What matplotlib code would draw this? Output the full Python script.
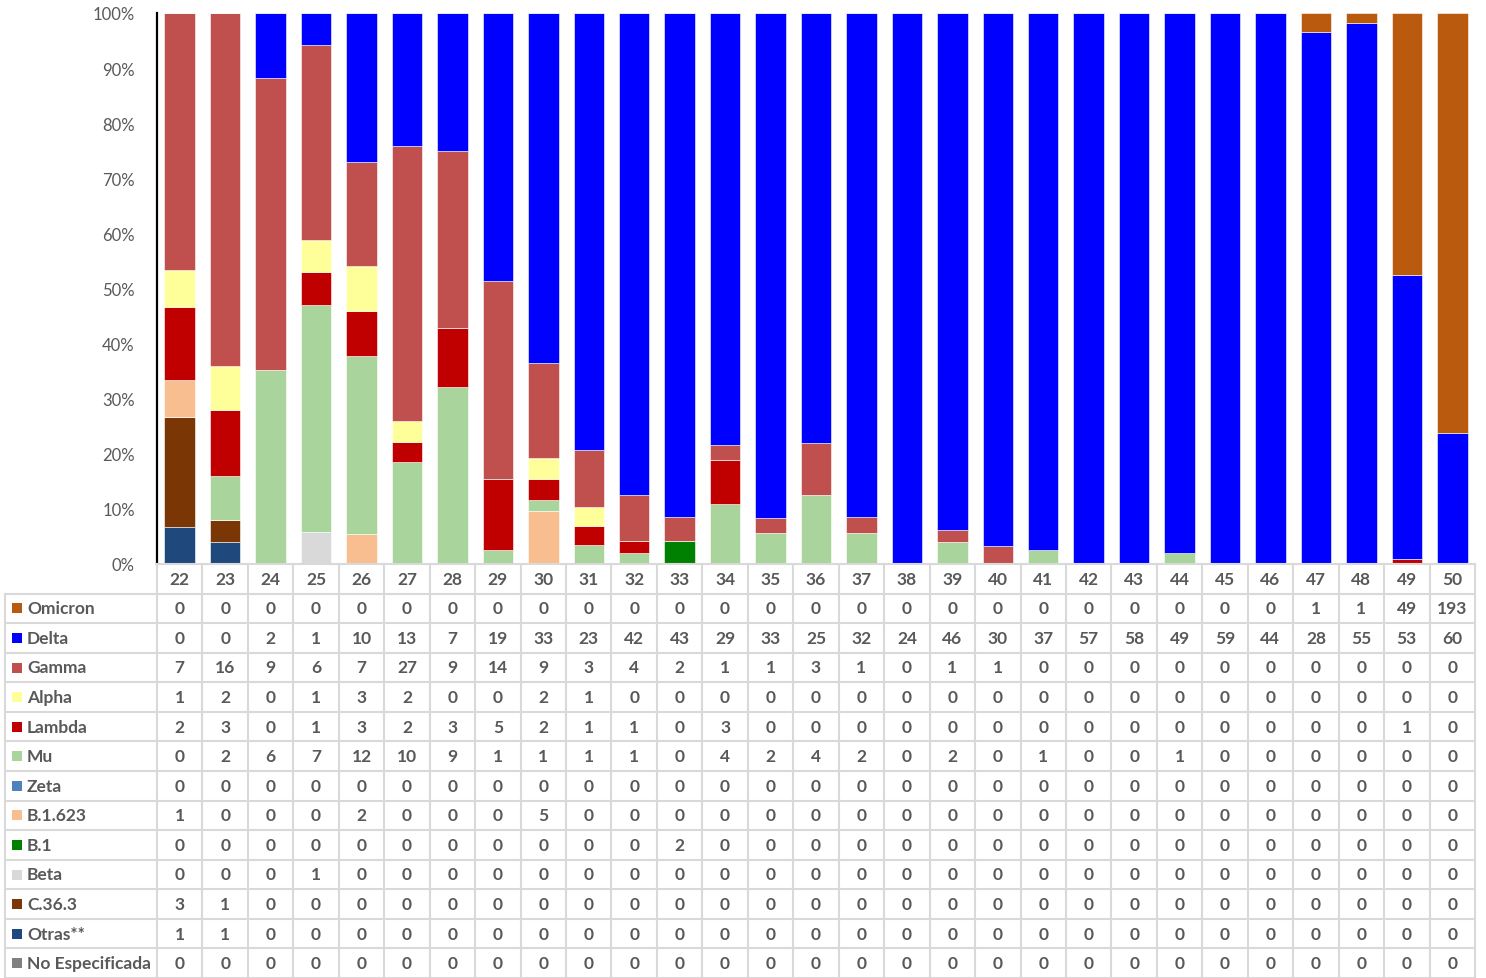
"""Variantes por semana epidemiologica: barras apiladas al 100% con tabla de datos."""

import matplotlib.pyplot as plt
import numpy as np
from matplotlib.patches import Rectangle

weeks = [22, 23, 24, 25, 26, 27, 28, 29, 30, 31, 32, 33, 34, 35, 36,
         37, 38, 39, 40, 41, 42, 43, 44, 45, 46, 47, 48, 49, 50]

omicron = [0, 0, 0, 0, 0, 0, 0, 0, 0, 0, 0, 0, 0, 0, 0, 0, 0, 0, 0, 0, 0, 0, 0, 0, 0, 1, 1, 49, 193]
delta = [0, 0, 2, 1, 10, 13, 7, 19, 33, 23, 42, 43, 29, 33, 25, 32, 24, 46, 30, 37, 57, 58, 49, 59, 44, 28, 55, 53, 60]
gamma = [7, 16, 9, 6, 7, 27, 9, 14, 9, 3, 4, 2, 1, 1, 3, 1, 0, 1, 1, 0, 0, 0, 0, 0, 0, 0, 0, 0, 0]
alpha = [1, 2, 0, 1, 3, 2, 0, 0, 2, 1, 0, 0, 0, 0, 0, 0, 0, 0, 0, 0, 0, 0, 0, 0, 0, 0, 0, 0, 0]
lambda_ = [2, 3, 0, 1, 3, 2, 3, 5, 2, 1, 1, 0, 3, 0, 0, 0, 0, 0, 0, 0, 0, 0, 0, 0, 0, 0, 0, 1, 0]
mu = [0, 2, 6, 7, 12, 10, 9, 1, 1, 1, 1, 0, 4, 2, 4, 2, 0, 2, 0, 1, 0, 0, 1, 0, 0, 0, 0, 0, 0]
zeta = [0, 0, 0, 0, 0, 0, 0, 0, 0, 0, 0, 0, 0, 0, 0, 0, 0, 0, 0, 0, 0, 0, 0, 0, 0, 0, 0, 0, 0]
b1623 = [1, 0, 0, 0, 2, 0, 0, 0, 5, 0, 0, 0, 0, 0, 0, 0, 0, 0, 0, 0, 0, 0, 0, 0, 0, 0, 0, 0, 0]
b1 = [0, 0, 0, 0, 0, 0, 0, 0, 0, 0, 0, 2, 0, 0, 0, 0, 0, 0, 0, 0, 0, 0, 0, 0, 0, 0, 0, 0, 0]
beta = [0, 0, 0, 1, 0, 0, 0, 0, 0, 0, 0, 0, 0, 0, 0, 0, 0, 0, 0, 0, 0, 0, 0, 0, 0, 0, 0, 0, 0]
c363 = [3, 1, 0, 0, 0, 0, 0, 0, 0, 0, 0, 0, 0, 0, 0, 0, 0, 0, 0, 0, 0, 0, 0, 0, 0, 0, 0, 0, 0]
otras = [1, 1, 0, 0, 0, 0, 0, 0, 0, 0, 0, 0, 0, 0, 0, 0, 0, 0, 0, 0, 0, 0, 0, 0, 0, 0, 0, 0, 0]
no_esp = [0, 0, 0, 0, 0, 0, 0, 0, 0, 0, 0, 0, 0, 0, 0, 0, 0, 0, 0, 0, 0, 0, 0, 0, 0, 0, 0, 0, 0]

# table order (top to bottom); stacking goes the other way
series = [
    ("Omicron", omicron, "#BA5A0E"),
    ("Delta", delta, "#0000FF"),
    ("Gamma", gamma, "#C0504D"),
    ("Alpha", alpha, "#FFFF99"),
    ("Lambda", lambda_, "#C00000"),
    ("Mu", mu, "#A9D49B"),
    ("Zeta", zeta, "#4F81BD"),
    ("B.1.623", b1623, "#F9BE8F"),
    ("B.1", b1, "#008000"),
    ("Beta", beta, "#D9D9D9"),
    ("C.36.3", c363, "#7A3604"),
    ("Otras**", otras, "#1F497D"),
    ("No Especificada", no_esp, "#808080"),
]

W, H = 1486, 979
TEXT = "#595959"
GRID = "#D9D9D9"
FONT = "Lato"
FS = 12.5

fig = plt.figure(figsize=(W / 100, H / 100), dpi=100)

# pixel layout
x0, x1 = 157, 1475
y_top, y_axis = 14, 565
lab_left = 5
n = len(weeks)
col_w = (x1 - x0) / n
lab_units = (x0 - lab_left) / col_w

# bar chart
ax = fig.add_axes([x0 / W, 1 - y_axis / H, (x1 - x0) / W, (y_axis - y_top) / H])
x = np.arange(n)
counts = np.array([s[1] for s in series], dtype=float)
totals = counts.sum(axis=0)
pct = counts / totals * 100
bottom = np.zeros(n)
for (name, vals, color), p in zip(series[::-1], pct[::-1]):
    ax.bar(x, p, width=0.67, bottom=bottom, color=color, edgecolor="white",
           linewidth=0.4, zorder=2)
    bottom += p

ax.set_xlim(-0.5, n - 0.5)
ax.set_ylim(0, 100)
ax.set_yticks(np.arange(0, 101, 10))
ax.set_yticklabels([f"{v}%" for v in range(0, 101, 10)], family=FONT, fontsize=12, color=TEXT)
ax.tick_params(axis="y", length=0, pad=16)
ax.set_xticks([])
for side in ("top", "right"):
    ax.spines[side].set_visible(False)
ax.spines["left"].set_color("black")
ax.spines["left"].set_linewidth(1.6)
ax.spines["bottom"].set_color(GRID)
ax.spines["bottom"].set_linewidth(1.5)

# data table
n_rows = len(series) + 1
tab = fig.add_axes([lab_left / W, 0, (x1 - lab_left) / W, (H - y_axis) / H])
xl = -0.5 - lab_units
tab.set_xlim(xl, n - 0.5)
tab.set_ylim(n_rows, 0)
tab.axis("off")

for i in range(n + 1):
    tab.plot([i - 0.5, i - 0.5], [0, n_rows], color=GRID, lw=1.5, clip_on=False)
tab.plot([xl, xl], [1, n_rows], color=GRID, lw=1.5, clip_on=False)
for r in range(1, n_rows + 1):
    tab.plot([xl, n - 0.5], [r, r], color=GRID, lw=1.5, clip_on=False)

for i, wk in enumerate(weeks):
    tab.text(i, 0.5, str(wk), ha="center", va="center", family=FONT,
             fontsize=FS, fontweight="bold", color=TEXT)

sq_w = 10 / col_w
sq_h = 10 / ((H - y_axis) / n_rows)
for r, (name, vals, color) in enumerate(series, start=1):
    tab.add_patch(Rectangle((xl + 7 / col_w, r + 0.5 - sq_h / 2), sq_w, sq_h,
                            facecolor=color, edgecolor="none"))
    tab.text(xl + 22 / col_w, r + 0.5, name, ha="left", va="center", family=FONT,
             fontsize=FS, fontweight="bold", color=TEXT)
    for i, v in enumerate(vals):
        tab.text(i, r + 0.5, str(v), ha="center", va="center", family=FONT,
                 fontsize=FS, fontweight="bold", color=TEXT)

fig.savefig("out.png", dpi=100)
plt.close(fig)
